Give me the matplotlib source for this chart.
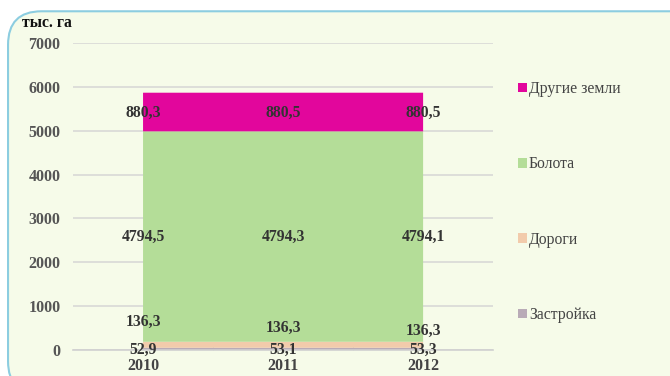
import matplotlib.pyplot as plt
from matplotlib.patches import FancyBboxPatch

# data
years = ['2010', '2011', '2012']
zastroika = [52.9, 53.1, 53.3]
dorogi = [136.3, 136.3, 136.3]
bolota = [4794.5, 4794.3, 4794.1]
drugie = [880.3, 880.5, 880.5]
series_names = ['Застройка', 'Дороги', 'Болота', 'Другие земли']
colors = ['#b9abb7', '#f2cbab', '#b4dd98', '#e2069c']

plt.rcParams['font.family'] = ['Liberation Serif', 'DejaVu Serif']

fig = plt.figure(figsize=(6.7, 3.76), dpi=100)
fig.patch.set_facecolor('white')

# rounded frame
frame = FancyBboxPatch((0.012, -0.05), 1.05, 1.02, transform=fig.transFigure,
                       boxstyle='round,pad=0,rounding_size=0.05',
                       facecolor='#f6fbe9', edgecolor='#8ccde0', linewidth=1.5,
                       mutation_aspect=670 / 376, zorder=-10)
fig.patches.append(frame)

ax = fig.add_axes([0.109, 0.069, 0.627, 0.817])
ax.set_facecolor('none')
ax.set_zorder(2)

x = list(range(len(years)))
series = [zastroika, dorogi, bolota, drugie]
ax.stackplot(x, *series, colors=colors, labels=series_names, zorder=2)

ax.set_xlim(-0.5, 2.5)
ax.set_ylim(0, 7000)
ax.set_yticks(range(0, 7001, 1000))
ax.yaxis.grid(True, color='#d9d9d6', linewidth=1.2, zorder=0)
ax.set_axisbelow(True)
for s in ['top', 'right', 'left']:
    ax.spines[s].set_visible(False)
ax.spines['bottom'].set_color('#d0d0d0')
ax.spines['bottom'].set_linewidth(1.2)
ax.tick_params(axis='y', length=0, pad=9, labelsize=11.5, labelcolor='#555555')
ax.tick_params(axis='x', length=0, pad=6, labelsize=11.5, labelcolor='#444444')
ax.set_xticks(x)
ax.set_xticklabels(years, fontweight='bold')
for t in ax.get_yticklabels():
    t.set_fontweight('bold')
# minor ticks between categories
ax.set_xticks([0.5, 1.5], minor=True)
ax.tick_params(axis='x', which='minor', length=4, color='#d0d0d0', direction='in')

fig.text(0.033, 0.94, 'тыс. га', fontsize=11.3, fontweight='bold', color='#111111',
         va='center')

# data labels
lbl = dict(ha='center', va='center', fontsize=11.3, fontweight='bold', color='#333333', zorder=5)
road_offsets = [640, 500, 430]
for i in x:
    base_b = zastroika[i] + dorogi[i]
    top_b = base_b + bolota[i]
    ax.text(i, top_b + drugie[i] / 2 - 20, f'{drugie[i]:.1f}'.replace('.', ','), **lbl)
    ax.text(i, base_b + bolota[i] / 2 - 10, f'{bolota[i]:.1f}'.replace('.', ','), **lbl)
    ax.text(i, road_offsets[i], f'{dorogi[i]:.1f}'.replace('.', ','), **lbl)
    ax.text(i, 10, f'{zastroika[i]:.1f}'.replace('.', ','), **lbl, clip_on=False)

# legend
handles, labels = ax.get_legend_handles_labels()
leg = fig.legend(handles[::-1], labels[::-1], loc='upper left',
                 bbox_to_anchor=(0.752, 0.822), frameon=False, fontsize=11.3,
                 handlelength=0.55, handleheight=0.55, handletextpad=0.15,
                 labelspacing=3.78)
for t in leg.get_texts():
    t.set_color('#444444')

fig.savefig('out.png', dpi=100, facecolor=fig.get_facecolor())
